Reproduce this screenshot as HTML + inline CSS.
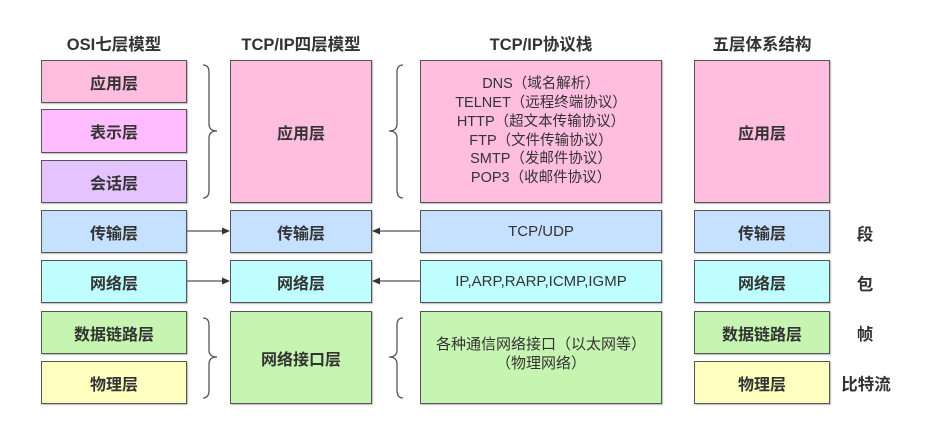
<!DOCTYPE html>
<html><head><meta charset="utf-8"><style>
body{margin:0;width:933px;height:427px;background:#fff;position:relative;overflow:hidden;font-family:"Liberation Sans","Noto Sans CJK SC",sans-serif;}
.b{position:absolute;box-sizing:border-box;border:1.5px solid #555;display:flex;align-items:center;justify-content:center;font-weight:bold;font-size:16px;color:#333;text-align:center;box-shadow:1px 1px 1px #bbb;}
.n{font-weight:normal;color:#333;font-size:14.5px;line-height:18.7px;}
.t{position:absolute;font-weight:bold;font-size:16.5px;color:#333;text-align:center;}
.pk{background:#ffbde0}.mg{background:#ffbdff}.pu{background:#e5c3ff}.bl{background:#c6e0ff}.cy{background:#bfffff}.gr{background:#c5f5b0}.ye{background:#ffffc0}
</style></head><body>
<div class="t" style="left:41px;top:31px;width:146px">OSI七层模型</div>
<div class="t" style="left:230px;top:31px;width:142px">TCP/IP四层模型</div>
<div class="t" style="left:420px;top:31px;width:242px">TCP/IP协议栈</div>
<div class="t" style="left:694px;top:31px;width:136px">五层体系结构</div>

<div class="b pk" style="left:41px;top:60px;width:146px;height:43px">应用层</div>
<div class="b mg" style="left:41px;top:109px;width:146px;height:44px">表示层</div>
<div class="b pu" style="left:41px;top:160px;width:146px;height:43px">会话层</div>
<div class="b bl" style="left:41px;top:210px;width:146px;height:43px">传输层</div>
<div class="b cy" style="left:41px;top:260px;width:146px;height:43px">网络层</div>
<div class="b gr" style="left:41px;top:311px;width:146px;height:43px">数据链路层</div>
<div class="b ye" style="left:41px;top:361px;width:146px;height:43px">物理层</div>

<div class="b pk" style="left:230px;top:60px;width:142px;height:143px">应用层</div>
<div class="b bl" style="left:230px;top:210px;width:142px;height:43px">传输层</div>
<div class="b cy" style="left:230px;top:260px;width:142px;height:43px">网络层</div>
<div class="b gr" style="left:230px;top:311px;width:142px;height:93px">网络接口层</div>

<div class="b pk n" style="left:420px;top:60px;width:242px;height:143px"><div>DNS（域名解析）<br>TELNET（远程终端协议）<br>HTTP（超文本传输协议）<br>FTP（文件传输协议）<br>SMTP（发邮件协议）<br>POP3（收邮件协议）</div></div>
<div class="b bl n" style="left:420px;top:210px;width:242px;height:43px;font-size:15px"><div style="margin-top:2px">TCP/UDP</div></div>
<div class="b cy n" style="left:420px;top:260px;width:242px;height:43px;font-size:15px"><div style="margin-top:2px">IP,ARP,RARP,ICMP,IGMP</div></div>
<div class="b gr n" style="left:420px;top:311px;width:242px;height:93px;font-size:15px"><div style="margin-top:-6px">各种通信网络接口（以太网等）<br>（物理网络）</div></div>

<div class="b pk" style="left:694px;top:60px;width:136px;height:143px">应用层</div>
<div class="b bl" style="left:694px;top:210px;width:136px;height:43px">传输层</div>
<div class="b cy" style="left:694px;top:260px;width:136px;height:43px">网络层</div>
<div class="b gr" style="left:694px;top:311px;width:136px;height:43px">数据链路层</div>
<div class="b ye" style="left:694px;top:361px;width:136px;height:43px">物理层</div>

<div class="t" style="left:843px;top:221px;width:44px">段</div>
<div class="t" style="left:843px;top:271px;width:44px">包</div>
<div class="t" style="left:843px;top:321px;width:44px">帧</div>
<div class="t" style="left:838px;top:371px;width:56px">比特流</div>

<svg width="933" height="427" style="position:absolute;left:0;top:0" fill="none" stroke="#555" stroke-width="1.3">
<path d="M203 65 Q209 65 209 72 L209 124 Q209 131 217 131 Q209 131 209 138 L209 190 Q209 198 203 198"/>
<path d="M403 65 Q397 65 397 72 L397 124 Q397 131 389 131 Q397 131 397 138 L397 190 Q397 198 403 198"/>
<path d="M203 318 Q209 318 209 325 L209 350 Q209 357 217 357 Q209 357 209 364 L209 390 Q209 398 203 398"/>
<path d="M403 318 Q397 318 397 325 L397 350 Q397 357 389 357 Q397 357 397 364 L397 390 Q397 398 403 398"/>
<path d="M187 231 H224 M187 281 H224 M420 231 H378 M420 281 H378"/>
<path d="M230 231 l-8 -3.5 v7z M230 281 l-8 -3.5 v7z M372 231 l8 -3.5 v7z M372 281 l8 -3.5 v7z" fill="#333" stroke="none"/>
</svg>
</body></html>
